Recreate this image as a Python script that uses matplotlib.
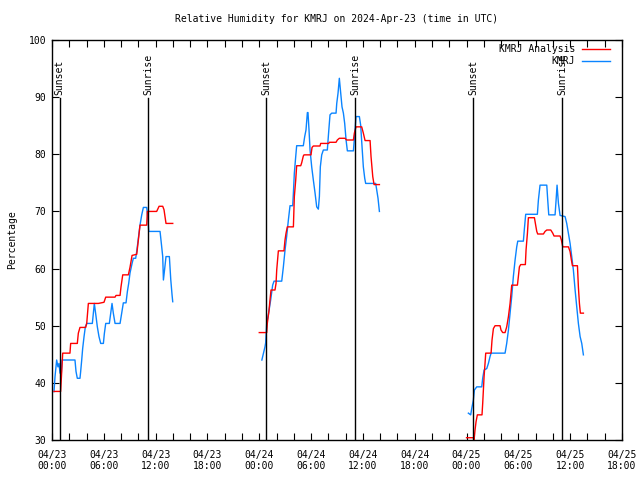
import matplotlib
matplotlib.use("Agg")
import matplotlib.pyplot as plt
import numpy as np

# ---- data (hours since 2024-04-23 00:00 UTC) ----
analysis_h1 = [0.23, 1.0, 1.24, 2.08, 2.16, 2.93, 3.05, 3.24, 3.9, 4.02, 4.21, 5.37, 6.02, 6.22, 7.3, 7.41, 7.88, 7.99, 8.19, 8.84, 9.03, 9.27, 9.81, 10.0, 10.19, 10.97, 11.04, 12.12, 12.4, 12.82, 12.97, 13.2, 13.98]
analysis_v1 = [38.5, 38.5, 45.2, 45.2, 46.9, 46.9, 48.7, 49.7, 49.7, 50.4, 53.9, 53.9, 54.1, 55.0, 55.0, 55.3, 55.3, 56.8, 58.9, 58.9, 60.2, 62.3, 62.5, 65.0, 67.6, 67.6, 70.0, 70.0, 70.9, 70.9, 70.3, 67.9, 67.9]
analysis_h2 = [24.0, 24.86, 24.93, 25.13, 25.24, 25.36, 25.82, 25.94, 26.02, 26.21, 26.86, 26.98, 27.1, 27.25, 27.95, 28.06, 28.22, 28.33, 28.8, 28.91, 29.1, 29.18, 29.99, 30.11, 30.26, 31.03, 31.11, 32.04, 32.12, 32.89, 33.04, 33.27, 33.93, 34.12, 34.9, 35.01, 35.2, 35.86, 36.05, 36.25, 36.83, 36.94, 37.14, 37.29, 37.91]
analysis_v2 = [48.8, 48.8, 50.4, 52.7, 54.5, 56.25, 56.25, 57.4, 59.75, 63.1, 63.1, 65.0, 66.2, 67.3, 67.3, 72.6, 75.5, 78.0, 78.0, 78.5, 79.7, 79.9, 79.9, 81.2, 81.45, 81.45, 81.9, 81.9, 82.1, 82.1, 82.5, 82.8, 82.8, 82.5, 82.5, 83.7, 84.8, 84.8, 83.7, 82.4, 82.4, 79.6, 76.1, 74.7, 74.7]
analysis_h3 = [48.0, 48.79, 48.87, 48.98, 49.1, 49.25, 49.79, 49.87, 50.03, 50.14, 50.22, 50.84, 50.95, 51.11, 51.3, 51.88, 51.99, 52.19, 52.46, 52.65, 52.85, 53.04, 53.15, 53.23, 53.89, 54.0, 54.12, 54.27, 54.81, 54.89, 55.05, 55.16, 55.86, 55.97, 56.13, 56.24, 56.9, 57.09, 57.29, 57.75, 57.98, 58.13, 58.83, 58.98, 59.14, 59.8, 59.99, 60.14, 60.26, 60.84, 60.95, 61.07, 61.18, 61.53]
analysis_v3 = [30.4, 30.4, 30.0, 31.7, 33.2, 34.4, 34.4, 36.4, 41.1, 43.4, 45.2, 45.2, 47.5, 49.5, 50.0, 50.0, 49.25, 48.8, 48.8, 49.8, 51.6, 53.9, 55.7, 57.1, 57.1, 58.6, 60.3, 60.7, 60.7, 63.25, 66.2, 68.9, 68.9, 67.9, 66.5, 66.05, 66.05, 66.5, 66.75, 66.75, 66.2, 65.7, 65.7, 65.0, 63.8, 63.8, 62.95, 61.5, 60.5, 60.5, 56.8, 53.9, 52.2, 52.2]

obs_h1 = [0.23, 0.35, 0.54, 0.69, 0.81, 0.93, 1.08, 1.16, 2.66, 2.78, 2.93, 3.24, 3.32, 3.44, 3.55, 3.71, 3.86, 4.02, 4.67, 4.79, 4.9, 5.1, 5.25, 5.44, 5.64, 5.95, 6.06, 6.22, 6.64, 6.8, 6.95, 7.1, 7.3, 7.88, 8.07, 8.26, 8.57, 8.73, 8.88, 9.03, 9.27, 9.42, 9.69, 9.81, 10.0, 10.19, 10.39, 10.58, 10.97, 11.12, 11.2, 12.51, 12.66, 12.82, 12.9, 13.05, 13.2, 13.59, 13.75, 13.9, 13.98]
obs_v1 = [38.45, 41.1, 44.0, 42.8, 43.4, 41.7, 41.7, 44.0, 44.0, 42.0, 40.8, 40.8, 42.0, 44.0, 46.0, 48.1, 49.8, 50.4, 50.4, 52.2, 53.9, 51.6, 49.8, 48.1, 46.9, 46.9, 48.6, 50.4, 50.4, 52.2, 53.9, 52.2, 50.4, 50.4, 52.2, 54.0, 54.0, 56.0, 57.4, 59.2, 60.9, 61.8, 61.8, 63.0, 65.3, 67.6, 69.4, 70.7, 70.7, 68.5, 66.5, 66.5, 64.4, 62.1, 58.0, 60.0, 62.1, 62.1, 58.1, 55.4, 54.2]
obs_h2 = [24.3, 24.66, 24.74, 24.86, 25.05, 25.32, 25.55, 25.71, 26.6, 26.79, 26.98, 27.17, 27.37, 27.56, 27.87, 27.95, 28.06, 28.22, 28.33, 29.1, 29.26, 29.41, 29.57, 29.64, 29.76, 29.88, 30.07, 30.26, 30.46, 30.65, 30.84, 30.96, 31.07, 31.23, 31.42, 31.88, 32.04, 32.19, 32.39, 32.89, 32.97, 33.12, 33.27, 33.43, 33.58, 33.74, 33.89, 34.05, 34.2, 34.9, 35.09, 35.2, 35.59, 35.74, 35.9, 36.05, 36.21, 36.32, 37.48, 37.6, 37.75, 37.91]
obs_v2 = [44.0, 46.3, 47.0, 50.4, 51.9, 54.5, 57.1, 57.8, 57.8, 60.3, 63.2, 65.6, 68.5, 71.0, 71.0, 73.2, 76.7, 79.6, 81.5, 81.5, 83.1, 84.25, 87.3, 87.3, 84.25, 80.75, 77.8, 75.5, 73.2, 70.8, 70.4, 72.6, 77.8, 79.9, 80.75, 80.75, 84.0, 86.9, 87.2, 87.2, 88.9, 90.7, 93.3, 90.7, 88.3, 87.2, 85.4, 82.5, 80.6, 80.6, 84.25, 86.6, 86.6, 85.1, 81.3, 77.8, 75.8, 74.9, 74.9, 73.75, 72.3, 70.0]
obs_h3 = [48.21, 48.48, 48.6, 48.79, 48.91, 49.18, 49.76, 49.87, 50.03, 50.34, 50.53, 50.72, 50.84, 52.46, 52.65, 52.85, 53.04, 53.23, 53.42, 53.62, 53.81, 53.93, 54.58, 54.7, 54.85, 56.2, 56.32, 56.51, 57.29, 57.4, 57.52, 58.25, 58.37, 58.48, 58.64, 58.83, 59.41, 59.6, 59.79, 59.99, 60.18, 60.37, 60.57, 60.76, 60.95, 61.15, 61.34, 61.53]
obs_v3 = [34.7, 34.4, 35.5, 37.0, 38.75, 39.3, 39.3, 40.8, 42.25, 42.5, 43.4, 44.6, 45.2, 45.2, 46.9, 49.25, 52.2, 55.1, 58.6, 61.5, 63.8, 64.8, 64.8, 67.0, 69.5, 69.5, 72.0, 74.6, 74.6, 72.0, 69.4, 69.4, 72.0, 74.6, 71.4, 69.3, 69.1, 67.9, 66.2, 64.4, 62.1, 59.75, 56.25, 53.3, 50.4, 48.1, 46.9, 44.9]

sunset_h = [0.87, 24.78, 48.79]
sunrise_h = [11.15, 35.08, 59.1]

tick_hours = [0, 6, 12, 18, 24, 30, 36, 42, 48, 54, 60, 66]
tick_labels = ["04/23\n00:00", "04/23\n06:00", "04/23\n12:00", "04/23\n18:00",
               "04/24\n00:00", "04/24\n06:00", "04/24\n12:00", "04/24\n18:00",
               "04/25\n00:00", "04/25\n06:00", "04/25\n12:00", "04/25\n18:00"]

FONT = "DejaVu Sans Mono"
FS = 7
plt.rcParams['font.family'] = [FONT]
plt.rcParams['font.size'] = FS

fig = plt.figure(figsize=(6.4, 4.8), dpi=100)
ax = fig.add_axes([52/640, 1-440/480, 570/640, 400/480])

RED = "#ff0000"
BLUE = "#0a84ff"
lw = 1.0
for i, (h, v) in enumerate([(analysis_h1, analysis_v1), (analysis_h2, analysis_v2), (analysis_h3, analysis_v3)]):
    ax.plot(h, v, color=RED, lw=lw, label="KMRJ Analysis" if i == 0 else None, zorder=3)
for i, (h, v) in enumerate([(obs_h1, obs_v1), (obs_h2, obs_v2), (obs_h3, obs_v3)]):
    ax.plot(h, v, color=BLUE, lw=lw, label="KMRJ" if i == 0 else None, zorder=2)

for h in sunset_h:
    ax.plot([h, h], [30, 89.8], color="black", lw=1.0, zorder=4)
    ax.text(h, 90.4, "Sunset", rotation=90, ha="center", va="bottom", fontsize=FS)
for h in sunrise_h:
    ax.plot([h, h], [30, 89.8], color="black", lw=1.0, zorder=4)
    ax.text(h, 90.4, "Sunrise", rotation=90, ha="center", va="bottom", fontsize=FS)

ax.set_xlim(0, 66)
ax.set_ylim(30, 100)
ax.set_xticks(tick_hours)
ax.set_xticklabels(tick_labels)
ax.set_xticks(np.arange(0, 67, 2), minor=True)
ax.set_yticks(np.arange(30, 101, 10))
ax.tick_params(axis="both", which="both", direction="in", top=True, right=True,
               length=5, width=0.8, labelsize=FS)
ax.tick_params(axis="x", which="major", pad=7)
ax.tick_params(axis="y", which="major", pad=4)
for s in ax.spines.values():
    s.set_linewidth(1.0)

fig.text(12/640, 1-240/480, "Percentage", rotation=90, ha="center", va="center", fontsize=FS)
fig.text(337/640, 1-19/480, "Relative Humidity for KMRJ on 2024-Apr-23 (time in UTC)",
         ha="center", va="center", fontsize=FS)

leg = ax.legend(loc="upper right", bbox_to_anchor=(610/640, 1-44/480),
                bbox_transform=fig.transFigure, frameon=False, markerfirst=False,
                handlelength=2.9, handletextpad=0.7, borderpad=0, borderaxespad=0,
                labelspacing=0.25, fontsize=FS)

fig.savefig("out.png", dpi=100)
